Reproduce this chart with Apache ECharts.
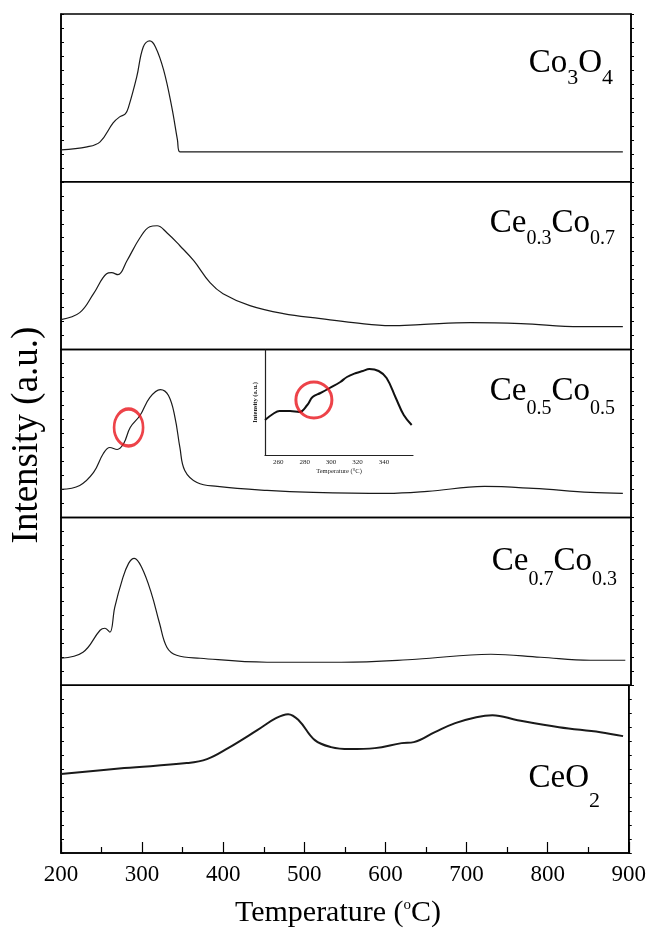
<!DOCTYPE html>
<html>
<head>
<meta charset="utf-8">
<script src="https://cdn.jsdelivr.net/npm/echarts/dist/echarts.min.js"></script>
<style>
  html, body { margin: 0; background: #fff; }
  #main { width: 649px; height: 933px; }
</style>
</head>
<body>
<div id="main"></div>
<script>
// temperature (°C) / intensity (a.u.)
const co3o4T = [200, 232, 248, 264, 272, 279, 283, 293, 301, 309, 316, 326, 336, 343, 346, 450, 550, 650, 750, 850, 890];
const co3o4I = [32, 35, 40, 59, 65, 68, 75, 105, 135, 141, 135, 112, 75, 42, 30, 30, 30, 30, 30, 30, 30];

const ce3T = [200, 223, 240, 256, 262, 270, 281, 297, 309, 318, 330, 346, 363, 383, 399, 432, 473, 519, 559, 605, 641, 703, 765, 838, 890];
const ce3I = [30, 37, 56, 76, 77, 75, 89, 112, 123, 124, 117, 104, 89, 67, 56, 44, 36, 31, 27, 24, 25, 27, 26, 23, 23];

const ce5T = [200, 223, 240, 252, 260, 269, 277, 285, 297, 309, 322, 332, 340, 346, 352, 367, 392, 453, 510, 600, 650, 720, 780, 850, 890];
const ce5I = [28, 32, 45, 64, 70, 68, 74, 90, 102, 120, 128, 122, 100, 70, 47, 35, 31, 27, 25, 24, 26, 31, 29, 25, 24];

const ce7T = [200, 227, 248, 254, 260, 266, 275, 283, 290, 299, 311, 321, 330, 342, 371, 453, 544, 636, 728, 789, 850, 893];
const ce7I = [27, 33, 55, 57, 53, 78, 105, 122, 127, 118, 92, 62, 38, 30, 27, 23, 23, 26, 31, 28, 25, 25];

const ceo2T = [200, 278, 355, 380, 406, 442, 465, 480, 493, 513, 533, 556, 587, 620, 635, 661, 686, 712, 732, 763, 814, 865, 893];
const ceo2I = [79, 85, 90, 94, 105, 123, 135, 139, 133, 113, 106, 104, 105, 110, 111, 121, 130, 136, 138, 133, 126, 121, 117];

// zoomed view of Ce0.5Co0.5
const insetT = [250, 256, 261, 269, 276, 282, 286, 292, 299, 307, 312, 319, 324, 329, 336, 342, 349, 355, 361];
const insetI = [35, 41, 44, 44, 43, 50, 58, 62, 67, 73, 78, 82, 84, 86, 84, 77, 57, 40, 30];
const insetTicks = [260, 280, 300, 320, 340];

// red circles
const circleMain = [283, 90];
const circleInset = [287, 55];

const labels = [
  '{m|Co}{a|3}{m|O}{a|4}',
  '{m|Ce}{b|0.3}{m|Co}{b|0.7}',
  '{m|Ce}{c|0.5}{m|Co}{c|0.5}',
  '{m|Ce}{d|0.7}{m|Co}{d|0.3}',
  '{m|CeO}{e|2}'
];

const serif = '"Liberation Serif", "Times New Roman", serif';
const ink = '#000';
const lineCol = '#1a1a1a';

const curves = [[co3o4T, co3o4I], [ce3T, ce3I], [ce5T, ce5I], [ce7T, ce7I], [ceo2T, ceo2I]];
const pair = (T, I) => T.map((t, i) => [t, I[i]]);

const grids = [], xAxes = [], yAxes = [], series = [];
const panelH = 167.8;

for (let i = 0; i < 5; i++) {
  const last = i === 4;
  grids.push({ left: 61, right: 18, top: 14 + i * panelH, height: panelH, show: true,
    borderColor: ink, borderWidth: 1.5, backgroundColor: 'transparent' });
  xAxes.push({
    type: 'value', gridIndex: i, min: 200, max: 900, interval: 100, show: last,
    axisLine: { show: true, lineStyle: { color: ink, width: 1.5 } },
    axisTick: { show: true, inside: true, length: 11, lineStyle: { color: ink, width: 1.2 } },
    minorTick: { show: true, splitNumber: 2, length: 6, lineStyle: { color: ink, width: 1.2 } },
    axisLabel: { show: last, color: ink, fontSize: 23, fontFamily: serif, margin: 10 },
    splitLine: { show: false }, minorSplitLine: { show: false }
  });
  yAxes.push({
    type: 'value', gridIndex: i, min: 0, max: 168, interval: 14, position: 'left',
    axisLine: { show: true, lineStyle: { color: ink, width: 1.5 } },
    axisTick: { show: true, inside: true, length: 3, lineStyle: { color: ink } },
    axisLabel: { show: false }, splitLine: { show: false }
  });
  series.push({
    type: 'line', xAxisIndex: i, yAxisIndex: i, data: pair(curves[i][0], curves[i][1]),
    showSymbol: false, smooth: 0.4, silent: true,
    lineStyle: { color: lineCol, width: last ? 2 : 1.2 }
  });
}
for (let i = 0; i < 5; i++) {
  yAxes.push({
    type: 'value', gridIndex: i, min: 0, max: 168, interval: 14, position: 'right',
    axisLine: { show: true, lineStyle: { color: ink, width: 1.5 } },
    axisTick: { show: true, inside: false, length: 3, lineStyle: { color: ink } },
    axisLabel: { show: false }, splitLine: { show: false }
  });
}

// inset
grids.push({ left: 265, top: 350, width: 148, height: 105 });
xAxes.push({
  type: 'value', gridIndex: 5, min: 250, max: 362,
  name: 'Temperature (°C)', nameLocation: 'middle', nameGap: 13,
  nameTextStyle: { color: '#222', fontSize: 6.5, fontFamily: serif },
  axisLine: { show: true, lineStyle: { color: '#222', width: 1.2 } },
  axisTick: { show: false },
  axisLabel: { customValues: insetTicks, color: '#222', fontSize: 7, fontFamily: serif, margin: 4 },
  splitLine: { show: false }
});
yAxes.push({
  type: 'value', gridIndex: 5, min: 0, max: 105,
  name: 'Intensity (a.u.)', nameLocation: 'middle', nameGap: 6,
  nameTextStyle: { color: '#222', fontSize: 6.5, fontWeight: 'bold', fontFamily: serif },
  axisLine: { show: true, lineStyle: { color: '#222', width: 1.2 } },
  axisTick: { show: false }, axisLabel: { show: false }, splitLine: { show: false }
});
series.push({
  type: 'line', xAxisIndex: 5, yAxisIndex: 10, data: pair(insetT, insetI),
  showSymbol: false, smooth: 0.4, silent: true,
  lineStyle: { color: '#111', width: 2 }
});

const ring = { color: 'rgba(0,0,0,0)', borderColor: '#e8141b', borderWidth: 3 };
series.push({ type: 'scatter', xAxisIndex: 2, yAxisIndex: 2, data: [circleMain],
  symbol: 'circle', symbolSize: [29, 37], itemStyle: ring, silent: true, z: 5 });
series.push({ type: 'scatter', xAxisIndex: 5, yAxisIndex: 10, data: [circleInset],
  symbol: 'circle', symbolSize: 36, itemStyle: ring, silent: true, z: 5 });

const main = (s) => s + 'px ' + serif;
const sub = (size, pad) => ({ font: main(size), fill: ink, verticalAlign: 'top', padding: [pad, 0, 0, 0] });
const rich = {
  m: { font: main(33), fill: ink, verticalAlign: 'top' },
  a: sub(22, 20),
  b: sub(20, 22),
  c: sub(20, 24),
  d: sub(20, 25),
  e: sub(22, 28)
};
const labelPos = [[613, 47], [615, 207], [615, 375], [617, 545], [600, 762]];

const textEl = (x, y, text) => ({
  type: 'text', x: x, y: y, silent: true,
  style: { text: text, fill: ink, font: main(33), rich: rich,
    align: 'right', textAlign: 'right', verticalAlign: 'top', textVerticalAlign: 'top' }
});

const graphic = labels.map((t, i) => textEl(labelPos[i][0], labelPos[i][1], t));
graphic.push({
  type: 'text', x: 27, y: 435, rotation: Math.PI / 2, silent: true,
  style: { text: 'Intensity (a.u.)', fill: ink, font: main(37),
    align: 'center', textAlign: 'center', verticalAlign: 'middle', textVerticalAlign: 'middle' }
});
graphic.push({
  type: 'text', x: 338, y: 898, silent: true,
  style: { text: '{t|Temperature (}{o|o}{t|C)}', fill: ink,
    rich: { t: { font: main(30), fill: ink, verticalAlign: 'top' }, o: { font: main(15), fill: ink, verticalAlign: 'top' } },
    align: 'center', textAlign: 'center', verticalAlign: 'top', textVerticalAlign: 'top' }
});

const myChart = echarts.init(document.getElementById('main'));
const option = {
  animation: false,
  backgroundColor: '#fff',
  grid: grids,
  xAxis: xAxes,
  yAxis: yAxes,
  series: series,
  graphic: graphic
};
myChart.setOption(option);
</script>
</body>
</html>
